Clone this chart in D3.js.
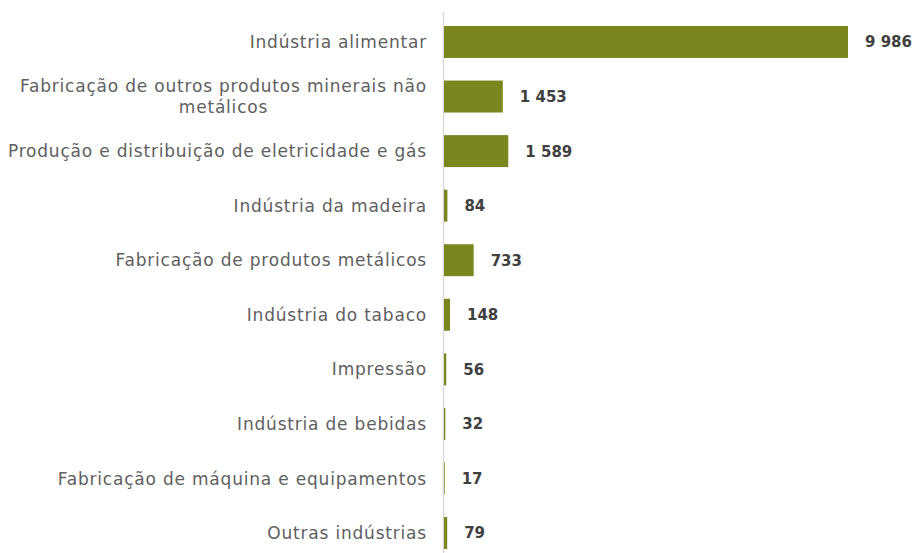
<!DOCTYPE html>
<html>
<head>
<meta charset="utf-8">
<script src="https://cdn.jsdelivr.net/npm/d3@7"></script>
<style>
  body { margin: 0; background: #fff; }
  .cat { font-family: "DejaVu Sans", sans-serif; font-size: 17px; letter-spacing: 0.8px; fill: #606060; }
  .val { font-family: "DejaVu Sans", sans-serif; font-size: 15px; font-weight: bold; fill: #404040; }
</style>
</head>
<body>
<div id="chart"></div>
<script>
// Categories (top to bottom) and values
var categories = [
  "Indústria alimentar",
  "Fabricação de outros produtos minerais não|metálicos",
  "Produção e distribuição de eletricidade e gás",
  "Indústria da madeira",
  "Fabricação de produtos metálicos",
  "Indústria do tabaco",
  "Impressão",
  "Indústria de bebidas",
  "Fabricação de máquina e equipamentos",
  "Outras indústrias"
];
var values = [9986, 1453, 1589, 84, 733, 148, 56, 32, 17, 79];
var valueLabels = ["9 986", "1 453", "1 589", "84", "733", "148", "56", "32", "17", "79"];

var svgWidth = 912;
var svgHeight = 553;

var svg = d3.select("#chart")
  .append("svg")
  .attr("width", svgWidth)
  .attr("height", svgHeight);

var xScale = d3.scaleLinear()
  .domain([0, 9986])
  .range([444, 848]);

var yScale = d3.scaleBand()
  .domain(categories)
  .range([14.7, 560.3])
  .paddingInner(0.414)
  .paddingOuter(0.207);

// axis line
svg.append("line")
  .attr("x1", 443.5).attr("x2", 443.5)
  .attr("y1", 12).attr("y2", svgHeight)
  .attr("stroke", "#d9d9d9")
  .attr("stroke-width", 1.5);

// bars
svg.selectAll("rect.bar")
  .data(values)
  .enter()
  .append("rect")
  .attr("class", "bar")
  .attr("x", xScale(0))
  .attr("y", (d, i) => yScale(categories[i]))
  .attr("width", d => xScale(d) - xScale(0))
  .attr("height", yScale.bandwidth())
  .attr("fill", "#7b861e");

// value labels
svg.selectAll("text.val")
  .data(values)
  .enter()
  .append("text")
  .attr("class", "val")
  .attr("x", d => xScale(d) + 17)
  .attr("y", (d, i) => yScale(categories[i]) + yScale.bandwidth() / 2)
  .attr("dy", "0.36em")
  .text((d, i) => valueLabels[i]);

// category labels (wrapped lines centred on the longest line)
categories.forEach(function (c, i) {
  var lines = c.split("|");
  var cy = yScale(c) + yScale.bandwidth() / 2;
  var g = svg.append("text").attr("class", "cat");
  if (lines.length == 1) {
    g.attr("x", 427).attr("y", cy).attr("dy", "0.36em")
      .attr("text-anchor", "end").text(lines[0]);
  } else {
    var t1 = g.append("tspan").attr("x", 427).attr("y", cy - 11).attr("dy", "0.36em")
      .attr("text-anchor", "end").text(lines[0]);
    var w = t1.node().getComputedTextLength();
    g.append("tspan").attr("x", 427 - w / 2).attr("y", cy + 10).attr("dy", "0.36em")
      .attr("text-anchor", "middle").text(lines[1]);
  }
});
</script>
</body>
</html>
